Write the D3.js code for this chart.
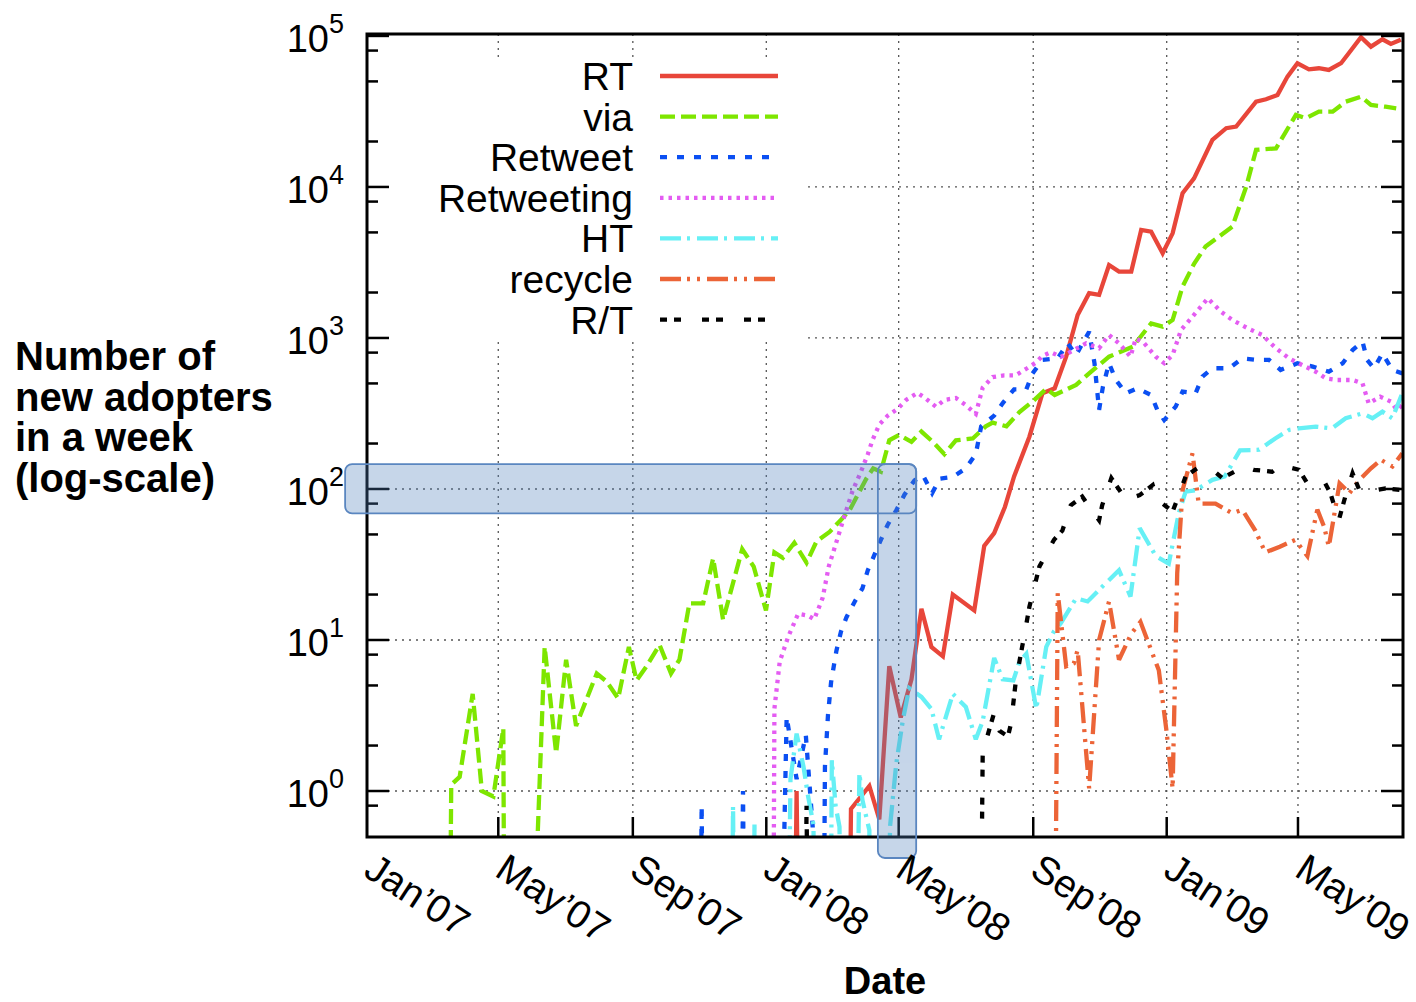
<!DOCTYPE html>
<html>
<head>
<meta charset="utf-8">
<script src="https://cdn.jsdelivr.net/npm/d3@7"></script>
<style>
  body { margin: 0; background: #fff; }
  text { font-family: "Liberation Sans", Arial, Helvetica, sans-serif; fill: #000; }
</style>
</head>
<body>
<div id="chart"></div>
<script>
// week numbers are counted from Mon 1 Jan 2007
const startDate = new Date(Date.UTC(2007, 0, 1))
const endDate = new Date(Date.UTC(2009, 7, 5))

const seriesNames = ["RT", "via", "Retweet", "Retweeting", "HT", "recycle", "R/T"]
const monthTicks = ["2007-01-01", "2007-05-01", "2007-09-01", "2008-01-01", "2008-05-01", "2008-09-01", "2009-01-01", "2009-05-01"]
const monthLabels = ["Jan’07", "May’07", "Sep’07", "Jan’08", "May’08", "Sep’08", "Jan’09", "May’09"]
const decades = [1, 10, 100, 1000, 10000, 100000]
const minorSteps = [2, 5, 8]

// highlighted region (dates and adopters)
const highlightRowDates = ["2006-12-12", "2008-05-17"]
const highlightRowValues = [69, 146]
const highlightColDates = ["2008-04-12", "2008-05-17"]
const highlightColValues = [0.36, 146]

// [week, new adopters]  (0 = nobody that week)
const rtData = [[55.4,0],[56.1,1.0],[56.8,0],
  [62.6,0],[63.2,0.76],[65.6,1.08],[66.9,0.65],[68.2,6.7],[69.7,3.07],[71.1,5.5],[72.4,16.1],[73.7,9.0],
  [75.2,7.8],[76.5,20],[79.3,15.7],[80.6,42],[81.9,51],[83.3,76],[84.5,121],[86.5,222],[88.2,430],
  [89.8,464],[91.3,752],[92.8,1420],[94.3,1980],[95.6,1930],[96.9,3040],[98.2,2750],[99.8,2750],
  [101.1,5190],[102.4,5060],[103.9,3640],[105.2,4930],[106.5,9080],[108.0,11400],[110.4,20500],
  [112.2,24500],[113.5,25100],[116.1,36700],[117.4,38100],[118.9,40700],[120.2,53800],[121.5,65900],
  [123.0,60100],[124.3,61100],[125.6,59500],[127.2,66000],[128.2,76800],[129.8,98000],[131.1,84900],
  [132.6,95000],[133.7,88500],[135.0,94200]]

const viaData = [[10.5,0],[11.0,1.1],[12.1,1.24],[13.8,4.4],[15.0,1.0],[16.5,0.92],[17.8,2.6],[18.1,0],
  [20.3,0],[23.2,9.0],[24.7,1.78],[26.0,7.4],[27.3,2.7],[30.0,6.0],[31.3,5.3],[32.8,4.1],[34.2,9.0],
  [35.2,5.4],[36.5,6.7],[38.2,9.3],[39.7,6.0],[40.8,7.4],[42.1,17.5],[43.9,17.5],[45.2,34.7],[46.5,13.6],
  [49.0,40],[50.5,30.6],[52.1,15.7],[53.2,38],[54.3,35],[55.8,44],[57.4,32.5],[58.7,45],[60.4,52],
  [61.7,61],[63.0,72],[64.1,92],[65.2,117],[66.1,137],[67.1,130],[68.2,210],[69.5,228],[71.1,205],
  [72.4,240],[73.9,205],[75.4,170],[76.9,210],[79.1,216],[80.8,260],[81.7,275],[83.5,260],[85.2,323],
  [86.9,379],[88.7,460],[89.8,419],[92.6,489],[94.3,583],[96.9,752],[100.0,876],[102.4,1250],
  [103.9,1190],[105.2,1315],[106.5,2190],[108.0,3100],[109.5,4030],[113.0,5460],[114.8,10000],
  [116.1,17600],[118.7,18000],[121.3,30000],[122.6,28500],[124.3,31500],[126.1,31500],[127.8,36700],
  [129.8,39600],[131.1,34900],[133.0,34000],[134.4,33200]]

const retweetData = [[43.2,0],[43.7,0.8],[44.2,0],[48.6,0],[49.1,1.0],[49.6,0],
  [53.4,0],[54.8,3.1],[56.1,1.2],[57.3,2.35],[58.2,0.58],[58.7,0],
  [59.4,0],[59.8,1.45],[60.2,3.2],[60.6,5.25],[61.3,8.5],[61.9,11.4],[62.6,14.1],[63.7,18],[64.7,22],
  [65.4,29],[66.3,37],[67.1,46],[68.0,58],[69.1,72],[70.2,92],[71.5,114],[72.6,123],[73.8,94],
  [74.8,117],[76.5,120],[78.2,137],[79.5,170],[80.2,260],[81.9,306],[83.0,369],[84.5,457],[86.1,457],
  [86.9,581],[88.2,715],[90.2,733],[91.5,922],[92.6,772],[94.3,1100],[95.0,680],[95.6,334],[96.1,476],
  [96.9,680],[97.8,527],[99.1,430],[100.6,464],[102.4,419],[103.2,334],[104.1,286],[105.6,351],
  [106.5,441],[108.2,430],[109.1,555],[110.4,630],[112.6,630],[114.3,733],[116.3,715],[117.8,715],
  [119.3,614],[121.5,680],[123.5,646],[125.6,598],[127.4,680],[128.7,832],[130.0,946],[130.6,715],
  [131.5,630],[132.6,791],[133.9,614],[135.2,583]]

const retweetingData = [[52.9,0],[53.2,3.5],[53.9,7.2],[55.0,10.5],[56.3,14.9],[57.6,14.5],[58.4,13.7],
  [59.5,19],[60.3,30.7],[61.3,44.6],[62.3,65],[63.4,97],[64.5,130],[65.4,170],[66.0,210],[66.9,267],
  [68.0,306],[69.3,340],[70.4,389],[71.9,433],[72.9,400],[74.3,350],[75.4,389],[76.9,400],[78.2,359],
  [79.5,314],[80.4,469],[81.7,551],[83.2,566],[84.7,566],[86.2,630],[87.4,690],[88.2,760],[89.3,805],
  [90.6,750],[91.5,790],[93.9,922],[95.6,855],[96.9,1047],[98.2,922],[99.7,752],[100.4,995],[101.5,922],
  [103.0,752],[104.1,680],[105.2,772],[106.3,1130],[107.8,1385],[109.8,1830],[111.5,1495],[113.0,1316],
  [115.0,1160],[116.9,1047],[118.7,855],[120.4,733],[122.1,662],[123.9,598],[125.2,541],[126.7,527],
  [128.7,527],[130.0,501],[130.8,369],[132.3,409],[133.7,379],[134.5,334],[135.2,360]]

const htData = [[47.3,0],[47.8,0.8],[48.3,0],[50.2,0],[50.6,0.6],[51.0,0],
  [54.6,0],[55.3,1.2],[56.1,2.4],[57.0,1.45],[57.6,0.92],[58.3,0.6],[58.8,0],
  [60.3,0],[60.7,1.6],[61.2,0.79],[61.7,0.58],[62.2,0],[63.4,0],[64.3,1.31],[64.7,0.87],[65.6,0.55],
  [66.0,0],[67.6,0],[68.3,0.58],[69.1,1.5],[70.0,3.0],[70.8,4.8],[72.4,4.2],[73.7,3.5],[74.7,2.2],
  [76.5,4.4],[78.2,3.6],[79.5,2.2],[80.4,2.9],[81.9,7.6],[83.0,5.5],[84.4,5.4],[85.2,7.2],[86.1,8.1],
  [87.4,3.5],[88.7,9],[89.7,11.4],[90.6,12.9],[92.6,18.9],[94.1,18],[95.8,22],[98.2,29],[99.7,19.4],
  [100.9,55],[103.0,36],[104.7,32],[106.0,69],[106.9,96],[108.2,98],[110.4,115],[112.0,121],[114.0,180],
  [116.5,182],[118.6,216],[120.4,246],[121.7,252],[123.9,259],[126.0,252],[127.8,294],[130.0,317],
  [131.3,294],[132.6,325],[133.9,294],[135.1,419]]

const recycleData = [[89.6,0],[90.2,20.4],[91.3,6.7],[92.3,7.0],[92.8,8.6],[94.3,1.04],[95.6,10],
  [96.9,18],[98.2,7.4],[99.8,11],[101.0,13.2],[103.4,6.3],[104.4,2.5],[105.2,1.04],[105.8,27.6],
  [106.5,98],[107.8,172],[108.6,80],[110.8,80],[113.0,69],[114.3,73],[116.0,53],[117.3,38],[119.2,41.5],
  [121.2,46],[122.8,36],[124.1,73],[125.0,56],[125.6,41.5],[127.0,109],[128.3,94],[129.6,115],
  [131.1,137],[132.4,156],[133.9,141],[135.2,172]]

const rtSlashData = [[56.9,0],[57.4,0.8],[57.9,0],
  [79.8,0],[80.4,1.78],[81.0,2.3],[81.9,3.3],[82.6,2.5],[83.7,2.3],[84.1,2.8],[84.7,5.2],[85.4,8.2],
  [85.8,10.5],[86.5,16.6],[87.8,30.6],[89.7,46],[90.8,53],[91.9,78],[93.4,89],[95.6,62],[96.0,78],
  [97.2,118],[99.1,85],[100.9,91],[102.6,106],[103.2,85],[105.2,71],[105.8,85],[106.9,121],[108.4,137],
  [110.4,134],[111.7,118],[114.5,141],[115.8,134],[118.2,130],[119.3,144],[121.7,134],[122.8,109],
  [125.0,112],[125.8,94],[126.9,62],[127.8,91],[128.7,127],[129.6,98],[131.7,98],[133.0,101],[135.2,98]]

const allData = [rtData, viaData, retweetData, retweetingData, htData, recycleData, rtSlashData]
const colors = ["#e8463a", "#7ee600", "#0b4ff2", "#e45cf2", "#66f0f5", "#ec6437", "#000000"]
const dashes = [null, "15,6", "7,10", "3.5,5", "21,6,3,7", "21,6,3,7,3,7", "7,7,7,21"]

// layout
const W = 1416, H = 1002
const plot = {left: 367, right: 1403, top: 34, bottom: 837}
const floorValue = 1e-3   // where zero counts are sent (below the visible axis)

const parse = d3.utcParse("%Y-%m-%d")
const weekDate = w => new Date(startDate.getTime() + w * 7 * 864e5)

const svg = d3.select("#chart").append("svg")
  .attr("width", W)
  .attr("height", H)

const x = d3.scaleUtc().domain([startDate, endDate]).range([plot.left, plot.right])
const y = d3.scaleLog().domain([0.496, 103000]).range([plot.bottom, plot.top])

svg.append("clipPath").attr("id", "clip")
  .append("rect")
  .attr("x", plot.left).attr("y", plot.top)
  .attr("width", plot.right - plot.left).attr("height", plot.bottom - plot.top)

// grid
const grid = svg.append("g")
  .attr("stroke", "#555")
  .attr("stroke-width", 1.3)
  .attr("stroke-dasharray", "2,5")
grid.selectAll(".hgrid")
  .data(decades.slice(0, 5))
  .join("line")
    .attr("class", "hgrid")
    .attr("x1", plot.left).attr("x2", plot.right)
    .attr("y1", d => y(d)).attr("y2", d => y(d))
grid.selectAll(".vgrid")
  .data(monthTicks.slice(1))
  .join("line")
    .attr("class", "vgrid")
    .attr("x1", d => x(parse(d))).attr("x2", d => x(parse(d)))
    .attr("y1", plot.top).attr("y2", plot.bottom)

// legend box hides the grid behind it
svg.append("rect")
  .attr("x", plot.left + 1).attr("y", 57)
  .attr("width", 435).attr("height", 285)
  .attr("fill", "#fff")

// series
const line = d3.line()
  .x(d => x(weekDate(d[0])))
  .y(d => y(Math.max(d[1], floorValue)))

svg.append("g")
  .attr("clip-path", "url(#clip)")
  .selectAll("path")
  .data(allData)
  .join("path")
    .attr("d", d => line(d))
    .attr("fill", "none")
    .attr("stroke", (d, i) => colors[i])
    .attr("stroke-width", 4.3)
    .attr("stroke-dasharray", (d, i) => dashes[i])
    .attr("stroke-linejoin", "miter")
    .attr("stroke-miterlimit", 3)

// legend
const legend = svg.append("g")
legend.selectAll("text")
  .data(seriesNames)
  .join("text")
    .attr("x", 633)
    .attr("y", (d, i) => 90 + i * 40.6)
    .attr("text-anchor", "end")
    .style("font-size", "39px")
    .text(d => d)
legend.selectAll("line")
  .data(seriesNames)
  .join("line")
    .attr("x1", 660).attr("x2", 778)
    .attr("y1", (d, i) => 76 + i * 40.6).attr("y2", (d, i) => 76 + i * 40.6)
    .attr("stroke", (d, i) => colors[i])
    .attr("stroke-width", 4.3)
    .attr("stroke-dasharray", (d, i) => dashes[i])

// frame and ticks
const ticks = svg.append("g").attr("stroke", "#000").attr("stroke-width", 2.5)
const minorTicks = decades.flatMap(d => minorSteps.map(s => s * d / 10)).filter(v => v > 0.55 && v < 103000)
ticks.selectAll(".ymajor")
  .data(decades)
  .join("g")
    .attr("class", "ymajor")
    .each(function(d) {
      const g = d3.select(this)
      g.append("line").attr("x1", plot.left).attr("x2", plot.left + 22).attr("y1", y(d)).attr("y2", y(d))
      g.append("line").attr("x1", plot.right - 22).attr("x2", plot.right).attr("y1", y(d)).attr("y2", y(d))
    })
ticks.selectAll(".yminor")
  .data(minorTicks)
  .join("g")
    .attr("class", "yminor")
    .each(function(d) {
      const g = d3.select(this)
      g.append("line").attr("x1", plot.left).attr("x2", plot.left + 11).attr("y1", y(d)).attr("y2", y(d))
      g.append("line").attr("x1", plot.right - 11).attr("x2", plot.right).attr("y1", y(d)).attr("y2", y(d))
    })
ticks.selectAll(".xmajor")
  .data(monthTicks.slice(1))
  .join("line")
    .attr("class", "xmajor")
    .attr("x1", d => x(parse(d))).attr("x2", d => x(parse(d)))
    .attr("y1", plot.bottom).attr("y2", plot.bottom - 20)

svg.append("rect")
  .attr("x", plot.left).attr("y", plot.top)
  .attr("width", plot.right - plot.left).attr("height", plot.bottom - plot.top)
  .attr("fill", "none")
  .attr("stroke", "#000")
  .attr("stroke-width", 3)

// highlight (one tint for the union, both outlines drawn)
const rowBox = {x0: x(parse(highlightRowDates[0])), x1: x(parse(highlightRowDates[1])),
  y0: y(highlightRowValues[1]), y1: y(highlightRowValues[0])}
const colBox = {x0: x(parse(highlightColDates[0])), x1: x(parse(highlightColDates[1])),
  y0: y(highlightColValues[1]), y1: y(highlightColValues[0])}
const boxes = [rowBox, colBox]
svg.append("g")
  .attr("opacity", 0.32)
  .selectAll("rect")
  .data(boxes)
  .join("rect")
    .attr("x", d => d.x0).attr("y", d => d.y0)
    .attr("width", d => d.x1 - d.x0).attr("height", d => d.y1 - d.y0)
    .attr("rx", 7)
    .attr("fill", "#4f7fbc")
svg.append("g")
  .selectAll("rect")
  .data(boxes)
  .join("rect")
    .attr("x", d => d.x0).attr("y", d => d.y0)
    .attr("width", d => d.x1 - d.x0).attr("height", d => d.y1 - d.y0)
    .attr("rx", 7)
    .attr("fill", "none")
    .attr("stroke", "#5a86c0")
    .attr("stroke-width", 1.8)

// y tick labels 10^n
const yLabels = svg.append("g")
yLabels.selectAll("text")
  .data(decades)
  .join("text")
    .attr("x", 344)
    .attr("y", d => y(d) + 16)
    .attr("text-anchor", "end")
    .style("font-size", "38px")
    .each(function(d) {
      const t = d3.select(this)
      t.append("tspan").text("10")
      t.append("tspan").attr("dy", -19).style("font-size", "27px").text(Math.round(Math.log10(d)))
    })

// x tick labels, slanted
svg.append("g")
  .selectAll("text")
  .data(monthTicks)
  .join("text")
    .attr("transform", (d, i) => `translate(${x(parse(d)) - 5},${plot.bottom + 38}) rotate(33)`)
    .style("font-size", "39px")
    .text((d, i) => monthLabels[i])

// axis titles
svg.append("text")
  .attr("x", 885)
  .attr("y", 994)
  .attr("text-anchor", "middle")
  .style("font-size", "38px")
  .style("font-weight", "bold")
  .text("Date")

const yTitle = ["Number of", "new adopters", "in a week", "(log-scale)"]
svg.append("g")
  .selectAll("text")
  .data(yTitle)
  .join("text")
    .attr("x", 15)
    .attr("y", (d, i) => 370 + i * 40.5)
    .style("font-size", "40px")
    .style("font-weight", "bold")
    .text(d => d)
</script>
</body>
</html>
